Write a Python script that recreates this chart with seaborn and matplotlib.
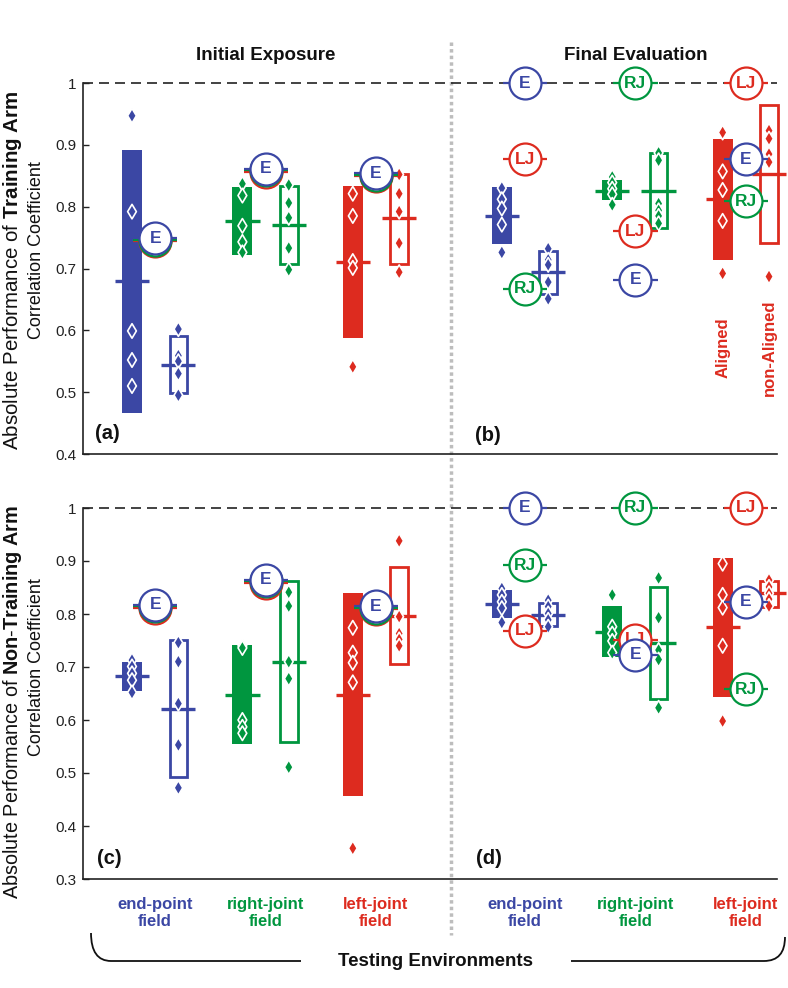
import numpy as np
import pandas as pd
import matplotlib
matplotlib.use("Agg")
import matplotlib.pyplot as plt
import seaborn as sns
from matplotlib import transforms
from matplotlib.lines import Line2D
from matplotlib.path import Path
from matplotlib.patches import PathPatch

# ---------------- data ----------------
phases = ["Initial Exposure", "Final Evaluation"]
environments = ["end-point\nfield", "right-joint\nfield", "left-joint\nfield"]
env_colors = ["#3b47a4", "#00963f", "#dd2b1f"]
field_codes = ["E", "RJ", "LJ"]
yticks_top = [0.4, 0.5, 0.6, 0.7, 0.8, 0.9, 1.0]
yticklabels_top = ["0.4", "0.5", "0.6", "0.7", "0.8", "0.9", "1"]
yticks_bot = [0.3, 0.4, 0.5, 0.6, 0.7, 0.8, 0.9, 1.0]
yticklabels_bot = ["0.3", "0.4", "0.5", "0.6", "0.7", "0.8", "0.9", "1"]

# (a) training arm, initial exposure
a_fill_mean = [0.679, 0.777, 0.710]
a_fill_lo = [0.467, 0.722, 0.587]
a_fill_hi = [0.891, 0.831, 0.834]
a_fill_pts = [[0.947, 0.792, 0.599, 0.552, 0.510],
              [0.837, 0.818, 0.769, 0.743, 0.726],
              [0.821, 0.785, 0.712, 0.701, 0.541]]
a_open_mean = [0.544, 0.771, 0.781]
a_open_lo = [0.499, 0.708, 0.707]
a_open_hi = [0.591, 0.833, 0.853]
a_open_pts = [[0.602, 0.559, 0.550, 0.530, 0.495],
              [0.835, 0.806, 0.782, 0.733, 0.698],
              [0.852, 0.821, 0.792, 0.741, 0.694]]
a_ref_E = [0.749, 0.861, 0.854]

# (b) training arm, final evaluation
b_fill_mean = [0.785, 0.826, 0.812]
b_fill_lo = [0.739, 0.811, 0.714]
b_fill_hi = [0.832, 0.843, 0.909]
b_fill_pts = [[0.830, 0.812, 0.797, 0.771, 0.726],
              [0.848, 0.839, 0.829, 0.820, 0.803],
              [0.920, 0.857, 0.827, 0.777, 0.692]]
b_open_mean = [0.694, 0.826, 0.853]
b_open_lo = [0.659, 0.766, 0.741]
b_open_hi = [0.729, 0.886, 0.964]
b_open_pts = [[0.732, 0.714, 0.706, 0.678, 0.651],
              [0.887, 0.875, 0.805, 0.794, 0.785, 0.773],
              [0.923, 0.910, 0.885, 0.872, 0.687]]
b_ref_E = [1.0, 0.682, 0.877]
b_ref_RJ = [0.667, 1.0, 0.809]
b_ref_LJ = [0.877, 0.760, 1.0]

# (c) non-training arm, initial exposure
c_fill_mean = [0.683, 0.648, 0.648]
c_fill_lo = [0.655, 0.554, 0.457]
c_fill_hi = [0.709, 0.742, 0.839]
c_fill_pts = [[0.713, 0.701, 0.688, 0.675, 0.652],
              [0.740, 0.736, 0.600, 0.587, 0.575],
              [0.774, 0.727, 0.708, 0.671, 0.358]]
c_open_mean = [0.621, 0.710, 0.797]
c_open_lo = [0.492, 0.559, 0.705]
c_open_hi = [0.751, 0.863, 0.888]
c_open_pts = [[0.746, 0.710, 0.631, 0.553, 0.472],
              [0.841, 0.815, 0.710, 0.678, 0.511],
              [0.938, 0.795, 0.763, 0.752, 0.740]]
c_ref_E = [0.817, 0.865, 0.815]

# (d) non-training arm, final evaluation
d_fill_mean = [0.819, 0.766, 0.776]
d_fill_lo = [0.792, 0.718, 0.644]
d_fill_hi = [0.845, 0.815, 0.906]
d_fill_pts = [[0.848, 0.836, 0.823, 0.811, 0.784],
              [0.836, 0.776, 0.763, 0.749, 0.727],
              [0.895, 0.836, 0.812, 0.740, 0.598]]
d_open_mean = [0.799, 0.746, 0.839]
d_open_lo = [0.778, 0.639, 0.814]
d_open_hi = [0.820, 0.850, 0.863]
d_open_pts = [[0.826, 0.814, 0.801, 0.789, 0.776],
              [0.868, 0.793, 0.732, 0.714, 0.623],
              [0.864, 0.851, 0.839, 0.828, 0.815]]
d_ref_E = [1.0, 0.723, 0.823]
d_ref_RJ = [0.892, 1.0, 0.658]
d_ref_LJ = [0.768, 0.751, 1.0]

# ---------------- style / layout ----------------
sns.set_theme(style="white")
plt.rcParams["font.family"] = ["Liberation Sans", "DejaVu Sans"]
plt.rcParams.update({
    "mathtext.fontset": "custom",
    "mathtext.rm": "Liberation Sans",
    "mathtext.bf": "Liberation Sans:bold",
    "mathtext.it": "Liberation Sans:italic",
})

W, H = 788, 988
fig = plt.figure(figsize=(W / 100, H / 100), dpi=100)


def px_rect(l, t, r, b):
    return [l / W, 1 - b / H, (r - l) / W, (b - t) / H]


def fx(px):
    return px / W


def fy(py):
    return 1 - py / H


ax_top = fig.add_axes(px_rect(83, 83, 777, 454))
ax_bot = fig.add_axes(px_rect(83, 508, 777, 879))

UNIT = 110.4          # pixels per group step
X0 = 132              # pixel of first filled bar
PHASE_SHIFT = 3.35
OPEN_OFF = 0.42
REF_OFF = 0.21
FILL_W = 0.18
OPEN_W = 0.16
TICK_HALF = 0.155
STUB = 0.2
XLIM = ((83 - X0) / UNIT, (777 - X0) / UNIT)


def xpos(phase, env):
    return phase * PHASE_SHIFT + env


def ref_marker(ax, x, v, code, color, dy_px=0.0, show_text=True, z=6.0):
    tr = transforms.offset_copy(ax.transData, fig=fig, x=0, y=dy_px, units="dots")
    ax.plot([x - STUB, x + STUB], [v, v], color=color, lw=1.6, transform=tr,
            zorder=z, clip_on=False, solid_capstyle="butt")
    ax.plot([x], [v], marker="o", ms=23.0, mfc="white", mec=color, mew=1.6,
            ls="none", transform=tr, zorder=z + 0.01, clip_on=False)
    if show_text:
        ax.text(x, v, code, color=color, fontsize=12.5, fontweight="bold",
                ha="center", va="center", transform=tr, zorder=z + 0.02,
                clip_on=False)


def draw_panel(ax, phase, fm, flo, fhi, fpts, om, olo, ohi, opts, refs, stacked):
    xs_f = np.array([xpos(phase, e) for e in range(3)])
    xs_o = xs_f + OPEN_OFF
    ax.bar(xs_f, np.subtract(fhi, flo), bottom=flo, width=FILL_W,
           color=env_colors, linewidth=0, zorder=2, clip_on=False)
    ax.bar(xs_o, np.subtract(ohi, olo), bottom=olo, width=OPEN_W,
           facecolor="none", edgecolor=env_colors, linewidth=2.0, zorder=2,
           clip_on=False)
    ax.hlines(fm, xs_f - TICK_HALF, xs_f + TICK_HALF, colors=env_colors,
              lw=2.4, zorder=3, clip_on=False)
    ax.hlines(om, xs_o - TICK_HALF, xs_o + TICK_HALF, colors=env_colors,
              lw=2.4, zorder=1.9, clip_on=False)
    rows = []
    for e in range(3):
        for v in fpts[e]:
            rows.append((xs_f[e], v, environments[e]))
        for v in opts[e]:
            rows.append((xs_o[e], v, environments[e]))
    df = pd.DataFrame(rows, columns=["x", "y", "env"])
    sns.scatterplot(data=df, x="x", y="y", hue="env", hue_order=environments,
                    palette=env_colors, marker="d", s=55, edgecolor="white",
                    linewidth=1.2, legend=False, ax=ax, zorder=4, clip_on=False)
    for e in range(3):
        xr = xs_f[e] + REF_OFF
        if stacked:
            layers = [("LJ", env_colors[2], -3.0), ("RJ", env_colors[1], -1.5),
                      ("E", env_colors[0], 0.0)]
            for k, (code, col, dy) in enumerate(layers):
                ref_marker(ax, xr, refs["E"][e], code, col, dy_px=dy,
                           show_text=(code == "E"), z=6 + 0.1 * k)
        else:
            order = [("LJ", env_colors[2]), ("RJ", env_colors[1]), ("E", env_colors[0])]
            for k, (code, col) in enumerate(order):
                ref_marker(ax, xr, refs[code][e], code, col, z=6 + 0.1 * k)


draw_panel(ax_top, 0, a_fill_mean, a_fill_lo, a_fill_hi, a_fill_pts,
           a_open_mean, a_open_lo, a_open_hi, a_open_pts, {"E": a_ref_E}, True)
draw_panel(ax_top, 1, b_fill_mean, b_fill_lo, b_fill_hi, b_fill_pts,
           b_open_mean, b_open_lo, b_open_hi, b_open_pts,
           {"E": b_ref_E, "RJ": b_ref_RJ, "LJ": b_ref_LJ}, False)
draw_panel(ax_bot, 0, c_fill_mean, c_fill_lo, c_fill_hi, c_fill_pts,
           c_open_mean, c_open_lo, c_open_hi, c_open_pts, {"E": c_ref_E}, True)
draw_panel(ax_bot, 1, d_fill_mean, d_fill_lo, d_fill_hi, d_fill_pts,
           d_open_mean, d_open_lo, d_open_hi, d_open_pts,
           {"E": d_ref_E, "RJ": d_ref_RJ, "LJ": d_ref_LJ}, False)

for ax, ticks, labels in [(ax_top, yticks_top, yticklabels_top),
                          (ax_bot, yticks_bot, yticklabels_bot)]:
    ax.set_xlim(*XLIM)
    ax.set_ylim(ticks[0], 1.0)
    ax.set_yticks(ticks)
    ax.set_yticklabels(labels)
    ax.set_xticks([])
    ax.set_xlabel("")
    ax.set_ylabel("")
    ax.set_facecolor("none")
    for s in ["top", "right"]:
        ax.spines[s].set_visible(False)
    for s in ["left", "bottom"]:
        ax.spines[s].set_color("#222222")
        ax.spines[s].set_linewidth(1.2)
    ax.tick_params(axis="y", direction="in", length=4, width=1.0,
                   labelsize=11, pad=5, colors="#222222", left=True)
    ax.axhline(1.0, color="#222222", lw=1.2, ls=(0, (6, 3.6)), zorder=1,
               clip_on=False)

# separator (dotted grey)
sep_x = fx(X0 + (2 * 1.0 + OPEN_OFF + (PHASE_SHIFT - 2 - OPEN_OFF) / 2) * UNIT)
fig.add_artist(Line2D([sep_x, sep_x], [fy(42), fy(935)], transform=fig.transFigure,
                      color="#bdbdbd", lw=2.5, ls=(0, (1, 0.9)), zorder=0))

# titles
for p, name in enumerate(phases):
    xc = xpos(p, 1) + REF_OFF
    bt = transforms.blended_transform_factory(ax_top.transData, fig.transFigure)
    ax_top.text(xc, fy(55), name, transform=bt, ha="center", va="center",
                fontsize=13.5, fontweight="bold", color="#111111", clip_on=False)

# category labels
bb = transforms.blended_transform_factory(ax_bot.transData, fig.transFigure)
for p in range(2):
    for e, lab in enumerate(environments):
        ax_bot.text(xpos(p, e) + REF_OFF, fy(913), lab, transform=bb,
                    ha="center", va="center", multialignment="center",
                    fontsize=12, fontweight="bold", color=env_colors[e],
                    linespacing=1.15, clip_on=False)

# panel letters
for txt, px_, py_ in [("(a)", 95, 433), ("(b)", 475, 435), ("(c)", 97, 859), ("(d)", 476, 859)]:
    fig.text(fx(px_), fy(py_), txt, ha="left", va="center", fontsize=14.5,
             fontweight="bold", color="#111111")

# Aligned / non-Aligned
ya = 0.4 + (454 - 347) / 623
ax_top.text(xpos(1, 2), ya, "Aligned", rotation=90, ha="center", va="center",
            color=env_colors[2], fontsize=12, fontweight="bold")
ax_top.text(xpos(1, 2) + OPEN_OFF, ya, "non-Aligned", rotation=90, ha="center",
            va="center", color=env_colors[2], fontsize=12, fontweight="bold")

# y labels
fig.text(fx(13), fy(90), r"Absolute Performance of $\bf{Training\ Arm}$",
         rotation=90, ha="center", va="top", fontsize=14.8, color="#111111")
fig.text(fx(37), fy(250), "Correlation Coefficient", rotation=90, ha="center",
         va="center", fontsize=13, color="#111111")
fig.text(fx(13), fy(505), r"Absolute Performance of $\bf{Non}$-$\bf{Training\ Arm}$",
         rotation=90, ha="center", va="top", fontsize=14.3, color="#111111")
fig.text(fx(37), fy(667), "Correlation Coefficient", rotation=90, ha="center",
         va="center", fontsize=13, color="#111111")

# bracket + Testing Environments
def fig_path(pts, codes):
    verts = [(fx(x), fy(y)) for x, y in pts]
    return PathPatch(Path(verts, codes), transform=fig.transFigure, fill=False,
                     lw=1.3, edgecolor="#111111")

fig.add_artist(fig_path([(91, 933), (91, 961), (111, 961), (301, 961)],
                        [Path.MOVETO, Path.CURVE3, Path.CURVE3, Path.LINETO]))
fig.add_artist(fig_path([(571, 961), (764, 961), (785, 961), (785, 937)],
                        [Path.MOVETO, Path.LINETO, Path.CURVE3, Path.CURVE3]))
fig.text(fx(436), fy(961), "Testing Environments", ha="center", va="center",
         fontsize=13.5, fontweight="bold", color="#111111")

fig.savefig("out.png", dpi=100)
